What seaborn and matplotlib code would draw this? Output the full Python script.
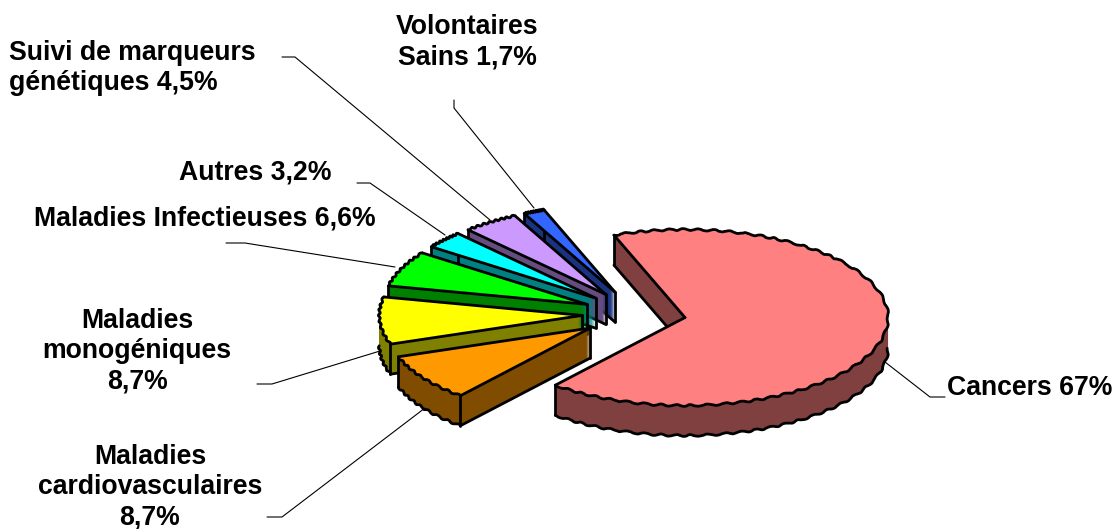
# plot.py
import numpy as np
import matplotlib
matplotlib.use("Agg")
import matplotlib.pyplot as plt
import seaborn as sns

# Valeurs (%), sens horaire depuis Cancers
categories = ["Cancers", "Maladies cardiovasculaires", "Maladies monogéniques",
              "Maladies Infectieuses", "Autres", "Suivi de marqueurs génétiques",
              "Volontaires Sains"]
values = [67, 8.7, 8.7, 6.6, 3.2, 4.5, 1.7]
top_colors = ["#FF8080", "#FF9900", "#FFFF00", "#00FF00", "#00FFFF", "#CC99FF", "#3366FF"]
side_colors = ["#804040", "#804D00", "#808000", "#008000", "#008080", "#664D80", "#1A3380"]
label_texts = ["Cancers 67%", "Maladies\ncardiovasculaires\n8,7%", "Maladies\nmonogéniques\n8,7%",
               "Maladies Infectieuses 6,6%", "Autres 3,2%", "Suivi de marqueurs\ngénétiques 4,5%",
               "Volontaires\nSains 1,7%"]

WIDTH, HEIGHT = 1114, 529
CX, CY = 637, 314       # centre du camembert en pixels
RX, RY = 203, 88        # rayons de l'ellipse
DEPTH = 30 / RY         # epaisseur
N_LAYERS = 30
START = 110.5
explode = [0.24, 0.28, 0.27, 0.27, 0.27, 0.27, 0.27]
# ordre de dessin de l'arriere vers l'avant
rank = [6, 5, 4, 3, 2, 1, 0]

# position du texte (x, y, ha) et traits de rappel en pixels
label_pos = [(1030, 388, "center"), (150, 487, "center"), (137, 351, "center"),
             (205, 219, "center"), (255, 173, "center"), (9, 68, "left"), (467, 42, "center")]
leaders = [[(945, 397), (930, 397), (885, 362)],
           [(267, 517), (282, 517), (425, 408)],
           [(257, 384), (272, 384), (380, 351)],
           [(226, 243), (245, 243), (395, 267)],
           [(357, 183), (370, 183), (445, 235)],
           [(282, 57), (295, 57), (490, 220)],
           [(454, 100), (454, 108), (534, 208)]]

sns.set_theme(style="white")
plt.rcParams["font.family"] = ["Liberation Sans", "DejaVu Sans"]

fig = plt.figure(figsize=(WIDTH / 100, HEIGHT / 100), dpi=100)
ax = fig.add_axes([0, 0, 1, 1])


def draw_pie(colors, offset):
    wedges, _ = ax.pie(values, startangle=START, counterclock=False, explode=explode,
                       colors=colors, center=(0, offset), wedgeprops={"edgecolor": "none"})
    return wedges


def outline(w, z, only_front=False):
    # contour de la part : rayons droits, arc irregulier
    xc, yc = w.center
    t = np.radians(np.linspace(w.theta1, w.theta2, 120))
    xs, ys = xc + np.cos(t), yc + np.sin(t)
    # un rayon du bas n'est visible que si sa paroi regarde vers l'avant
    if not only_front or np.sin(t[0] - np.pi / 2) < 0:
        ax.plot([xs[0], xc], [ys[0], yc], color="black", lw=2.0, zorder=z)
    if not only_front or np.sin(t[-1] + np.pi / 2) < 0:
        ax.plot([xs[-1], xc], [ys[-1], yc], color="black", lw=2.0, zorder=z)
    keep = np.sin(t) <= 0 if only_front else np.ones(len(t), dtype=bool)
    if keep.any():
        rim, = ax.plot(xs[keep], ys[keep], color="black", lw=2.0, zorder=z)
        rim.set_sketch_params(0.9, 16, 2)


# flancs : piles de camemberts decales vers le bas
for k in range(N_LAYERS, 0, -1):
    for i, w in enumerate(draw_pie(side_colors, -DEPTH * k / N_LAYERS)):
        w.set_zorder(rank[i] * 100 + 1 + (N_LAYERS - k) / N_LAYERS)
        if k == N_LAYERS:
            outline(w, rank[i] * 100 + 30, only_front=True)

# dessus
for i, w in enumerate(draw_pie(top_colors, 0)):
    w.set_zorder(rank[i] * 100 + 50)
    outline(w, rank[i] * 100 + 51)
    # aretes verticales aux coins de la part
    xc, yc = w.center
    for a in (w.theta1, w.theta2):
        x = xc + np.cos(np.radians(a))
        y = yc + np.sin(np.radians(a))
        ax.plot([x, x], [y, y - DEPTH], color="black", lw=2.0, zorder=rank[i] * 100 + 40)
    ax.plot([xc, xc], [yc, yc - DEPTH], color="black", lw=2.0, zorder=rank[i] * 100 + 40)

ax.set_aspect("auto")
ax.set_xlim(-CX / RX, (WIDTH - CX) / RX)
ax.set_ylim((CY - HEIGHT) / RY, CY / RY)

# calque en pixels pour les textes et traits de rappel
overlay = fig.add_axes([0, 0, 1, 1], facecolor="none")
overlay.set_xlim(0, WIDTH)
overlay.set_ylim(HEIGHT, 0)
overlay.axis("off")
for pts, txt, (x, y, ha) in zip(leaders, label_texts, label_pos):
    xs, ys = zip(*pts)
    overlay.plot(xs, ys, color="black", lw=0.8)
    overlay.text(x, y, txt, ha=ha, va="center", fontsize=19.2, fontweight="bold",
                 color="black", linespacing=1.22, multialignment=ha)

fig.savefig("out.png", dpi=100, facecolor="white")
plt.close(fig)
